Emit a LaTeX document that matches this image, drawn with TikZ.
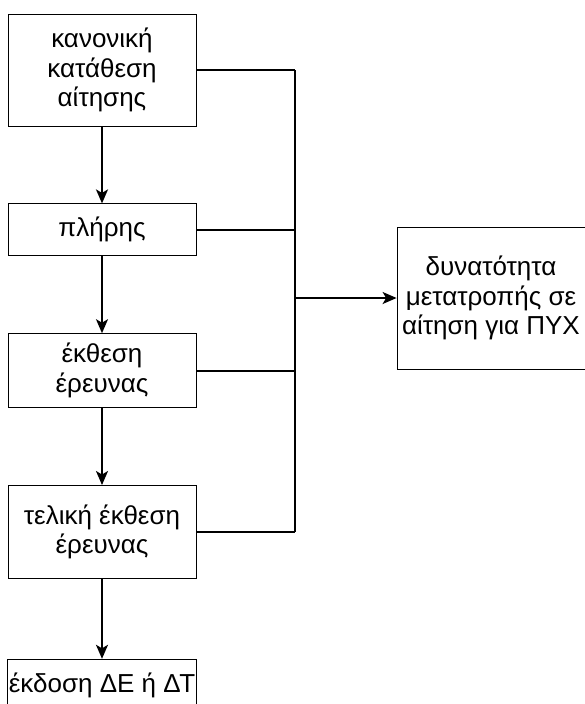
\documentclass[tikz,border=0pt]{standalone}
\usepackage{fontspec}
\setmainfont{Liberation Sans}
\usetikzlibrary{arrows.meta, positioning}

\begin{document}
\begin{tikzpicture}[x=1pt, y=1pt, node distance=77pt,
        box/.style={draw, rectangle, line width=0.8pt, minimum width=188pt, align=center,
            inner xsep=1pt, font=\fontsize{26}{29.5}\selectfont},
        conn/.style={line width=1.8pt},
        arr/.style={conn, -{Stealth[length=14pt, width=12pt, inset=3.5pt]}}]

        \useasboundingbox (0,0) rectangle (584,-704);

        % Main column of steps
        \node[box, minimum height=112pt] (kanoniki) at (102,-70) {κανονική\\κατάθεση\\αίτησης};
        \node[box, minimum height=52pt, below=of kanoniki] (pliris) {πλήρης};
        \node[box, minimum height=74pt, below=of pliris] (ekthesi) {έκθεση\\έρευνας};
        \node[box, minimum height=93pt, below=of ekthesi] (teliki) {τελική έκθεση\\έρευνας};
        \node[box, minimum height=52pt, below=80pt of teliki] (ekdosi) {έκδοση ΔΕ ή ΔΤ};

        % Conversion box on the right
        \node[box, minimum height=142pt] (metatropi) at (491,-298) {δυνατότητα\\μετατροπής σε\\αίτηση για ΠΥΧ};

        \draw[arr] (kanoniki) -- (pliris);
        \draw[arr] (pliris) -- (ekthesi);
        \draw[arr] (ekthesi) -- (teliki);
        \draw[arr] (teliki) -- (ekdosi);

        % Collecting bus
        \coordinate (bus) at (295,-298);
        \draw[conn] (kanoniki.east) -- (kanoniki.east -| bus);
        \draw[conn] (pliris.east) -- (pliris.east -| bus);
        \draw[conn] (ekthesi.east) -- (ekthesi.east -| bus);
        \draw[conn] (teliki.east) -- (teliki.east -| bus);
        \draw[conn] (kanoniki.east -| bus) -- (teliki.east -| bus);
        \draw[arr] (bus) -- (metatropi);
\end{tikzpicture}
\end{document}
